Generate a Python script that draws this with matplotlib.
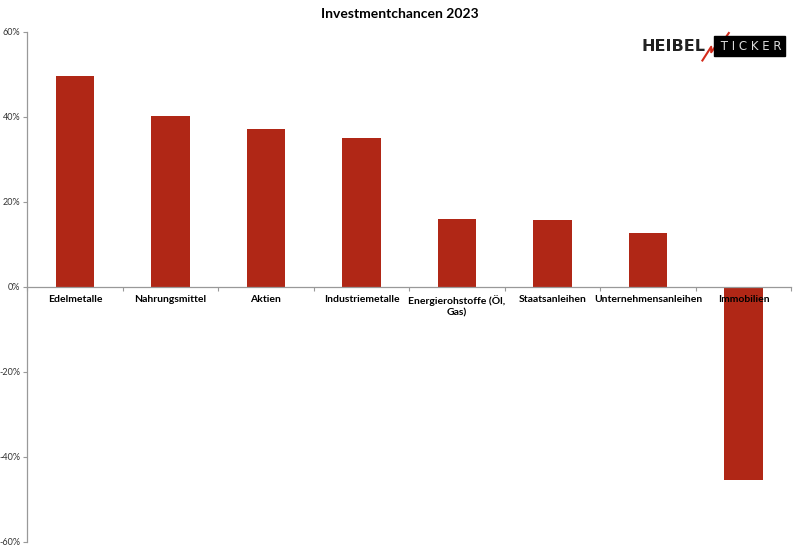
import numpy as np
import matplotlib.pyplot as plt
from matplotlib.ticker import FuncFormatter, FixedLocator

categories = ['Edelmetalle', 'Nahrungsmittel', 'Aktien', 'Industriemetalle',
              'Energierohstoffe (Öl,\nGas)', 'Staatsanleihen',
              'Unternehmensanleihen', 'Immobilien']
values = [49.7, 40.2, 37.1, 35.1, 15.9, 15.8, 12.6, -45.5]
yticks = [-60, -40, -20, 0, 20, 40, 60]

plt.rcParams['font.family'] = ['Lato', 'DejaVu Sans']

fig = plt.figure(figsize=(8, 5.5), dpi=100)
ax = fig.add_axes([0.034, 0.015, 0.955, 0.927])

x = np.arange(len(categories))
ax.bar(x, values, width=0.4, color='#B02716', zorder=1)

ax.set_xlim(-0.5, len(categories) - 0.5)
ax.set_ylim(-60, 60)

# y axis
ax.set_yticks(yticks)
ax.yaxis.set_major_formatter(FuncFormatter(lambda v, p: '%d%%' % v))
ax.tick_params(axis='y', labelsize=6.5, length=3, width=0.8, color='#999999',
               labelcolor='#333333', pad=2)

# x axis sits on zero line
ax.spines['bottom'].set_position(('data', 0))
ax.spines['bottom'].set_zorder(3)
ax.set_xticks(x)
ax.set_xticklabels(categories, fontsize=7.5, fontweight='bold', linespacing=1.3)
ax.tick_params(axis='x', which='major', length=0, pad=6)
ax.xaxis.set_minor_locator(FixedLocator(np.arange(-0.5, len(categories), 1.0)))
ax.tick_params(axis='x', which='minor', length=3, width=0.8, color='#999999',
               direction='out')

for s in ['top', 'right']:
    ax.spines[s].set_visible(False)
for s in ['left', 'bottom']:
    ax.spines[s].set_color('#999999')
    ax.spines[s].set_linewidth(0.9)

fig.text(0.5, 0.974, 'Investmentchancen 2023', ha='center', va='center',
         fontsize=10, fontweight='bold')

# logo
fig.text(0.802, 0.916, 'HEIBEL', ha='left', va='center', fontsize=11.5,
         fontweight='bold', color='#222222', family='DejaVu Sans')
fig.text(0.977, 0.916, ' T I C K E R', ha='right', va='center', fontsize=8.5,
         color='#dddddd', family='DejaVu Sans',
         bbox=dict(facecolor='black', edgecolor='black', pad=2.5))
fig.lines.append(plt.Line2D([0.878, 0.889, 0.889, 0.899, 0.899, 0.911],
                            [0.89, 0.915, 0.905, 0.925, 0.915, 0.94],
                            transform=fig.transFigure, color='#d42a1a', lw=1.5))

fig.savefig('out.png', dpi=100)
